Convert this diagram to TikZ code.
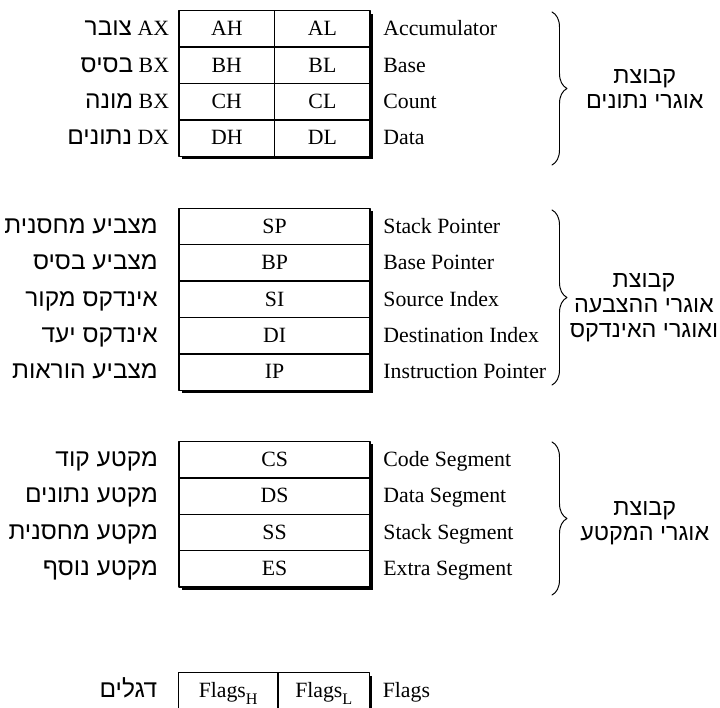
\documentclass[tikz,border=0pt]{standalone}
\usepackage{fontspec}
\setmainfont{Liberation Serif}
\newfontfamily\ebraico[Script=Hebrew]{Liberation Sans}
\TeXXeTstate=1
\usepackage{tikz}
\usetikzlibrary{positioning,backgrounds,decorations.pathreplacing}

\newcommand{\ebr}[1]{{\ebraico\fontsize{17.4}{18}\selectfont\beginR #1\endR}}
\newcommand{\pedice}[1]{\raisebox{-0.3em}{\fontsize{11.5}{12}\selectfont #1}}

\tikzset{
    cella/.style={draw, fill=white, line width=1pt, outer sep=0pt, inner sep=0pt,
        minimum width=23.9mm, minimum height=9.1mm, text height=12pt, text depth=2.5pt},
    cellalarga/.style={cella, minimum width=47.8mm},
    etich/.style={inner sep=0pt, outer sep=0pt, text height=12pt, text depth=2.5pt},
    gruppo/.style={align=center, inner sep=0pt,
        font=\ebraico\fontsize{16.6}{17.8}\selectfont},
    graffa/.style={decorate, line width=0.7pt,
        decoration={brace, amplitude=3.75mm}},
    ombra/.style={fill=black}
}

\begin{document}
\begin{tikzpicture}[
    line cap=round,
    line join=round,
    font=\fontsize{15.5}{18}\selectfont
]
\useasboundingbox (0,0) rectangle (18,17.7);

% Registri di dati
\node[cella] (ah) at (5.67,16.975) {AH};
\node[cella, right=0pt of ah] (al) {AL};
\node[cella, below=0pt of ah] (bh) {BH};
\node[cella, right=0pt of bh] (bl) {BL};
\node[cella, below=0pt of bh] (ch) {CH};
\node[cella, right=0pt of ch] (cl) {CL};
\node[cella, below=0pt of ch] (dh) {DH};
\node[cella, right=0pt of dh] (dl) {DL};

\node[etich, left=2.5mm of ah] (ax) {\ebr{צובר} AX};
\node[etich, left=2.5mm of bh] (bx) {\ebr{בסיס} BX};
\node[etich, left=2.5mm of ch] (cx) {\ebr{מונה} BX};
\node[etich, left=2.5mm of dh] (dx) {\ebr{נתונים} DX};

\node[etich, right=3.3mm of al] (acc) {Accumulator};
\node[etich, right=3.3mm of bl] (bas) {Base};
\node[etich, right=3.3mm of cl] (cou) {Count};
\node[etich, right=3.3mm of dl] (dat) {Data};

% Registri puntatori e indici
\node[cellalarga] (sp) at (6.865,12.035) {SP};
\node[cellalarga, below=0pt of sp] (bp) {BP};
\node[cellalarga, below=0pt of bp] (si) {SI};
\node[cellalarga, below=0pt of si] (di) {DI};
\node[cellalarga, below=0pt of di] (ip) {IP};

\node[etich, left=5.3mm of sp] (hsp) {\ebr{מצביע מחסנית}};
\node[etich, left=5.3mm of bp] (hbp) {\ebr{מצביע בסיס}};
\node[etich, left=5.3mm of si] (hsi) {\ebr{אינדקס מקור}};
\node[etich, left=5.3mm of di] (hdi) {\ebr{אינדקס יעד}};
\node[etich, left=5.3mm of ip] (hip) {\ebr{מצביע הוראות}};

\node[etich, right=3.3mm of sp] (esp) {Stack Pointer};
\node[etich, right=3.3mm of bp] (ebp) {Base Pointer};
\node[etich, right=3.3mm of si] (esi) {Source Index};
\node[etich, right=3.3mm of di] (edi) {Destination Index};
\node[etich, right=3.3mm of ip] (eip) {Instruction Pointer};

% Registri di segmento
\node[cellalarga] (cs) at (6.865,6.205) {CS};
\node[cellalarga, below=0pt of cs] (ds) {DS};
\node[cellalarga, below=0pt of ds] (ss) {SS};
\node[cellalarga, below=0pt of ss] (es) {ES};

\node[etich, left=5.3mm of cs] (hcs) {\ebr{מקטע קוד}};
\node[etich, left=5.3mm of ds] (hds) {\ebr{מקטע נתונים}};
\node[etich, left=5.3mm of ss] (hss) {\ebr{מקטע מחסנית}};
\node[etich, left=5.3mm of es] (hes) {\ebr{מקטע נוסף}};

\node[etich, right=3.3mm of cs] (ecs) {Code Segment};
\node[etich, right=3.3mm of ds] (eds) {Data Segment};
\node[etich, right=3.3mm of ss] (ess) {Stack Segment};
\node[etich, right=3.3mm of es] (ees) {Extra Segment};

% Flag
\node[cella, minimum width=24.9mm] (flh) at (5.705,0.425) {Flags\pedice{H}};
\node[cella, minimum width=22.9mm, right=0pt of flh] (fll) {Flags\pedice{L}};
\node[etich, left=5.3mm of flh] (hfl) {\ebr{דגלים}};
\node[etich, right=3.3mm of fll] (efl) {Flags};

% Ombre
\begin{scope}[on background layer]
\fill[ombra] ([shift={(0.07,-0.07)}]ah.north west) rectangle ([shift={(0.07,-0.07)}]dl.south east);
\fill[ombra] ([shift={(0.07,-0.07)}]sp.north west) rectangle ([shift={(0.07,-0.07)}]ip.south east);
\fill[ombra] ([shift={(0.07,-0.07)}]cs.north west) rectangle ([shift={(0.07,-0.07)}]es.south east);
\fill[ombra] ([shift={(0.07,-0.07)}]flh.north west) rectangle ([shift={(0.07,-0.07)}]fll.south east);
\end{scope}

% Graffe
\draw[graffa] (13.8,17.4) -- (13.8,13.575);
\draw[graffa] (13.8,12.45) -- (13.8,8.075);
\draw[graffa] (13.8,6.65) -- (13.8,2.825);

% Gruppi
\node[gruppo] (gdati) at (16.12,15.48) {\beginR קבוצת\endR\\\beginR אוגרי נתונים\endR};
\node[gruppo] (gpunt) at (16.1,10.0) {\beginR קבוצת\endR\\\beginR אוגרי ההצבעה\endR\\\beginR ואוגרי האינדקס\endR};
\node[gruppo] (gsegm) at (16.12,4.62) {\beginR קבוצת\endR\\\beginR אוגרי המקטע\endR};

\end{tikzpicture}
\end{document}
